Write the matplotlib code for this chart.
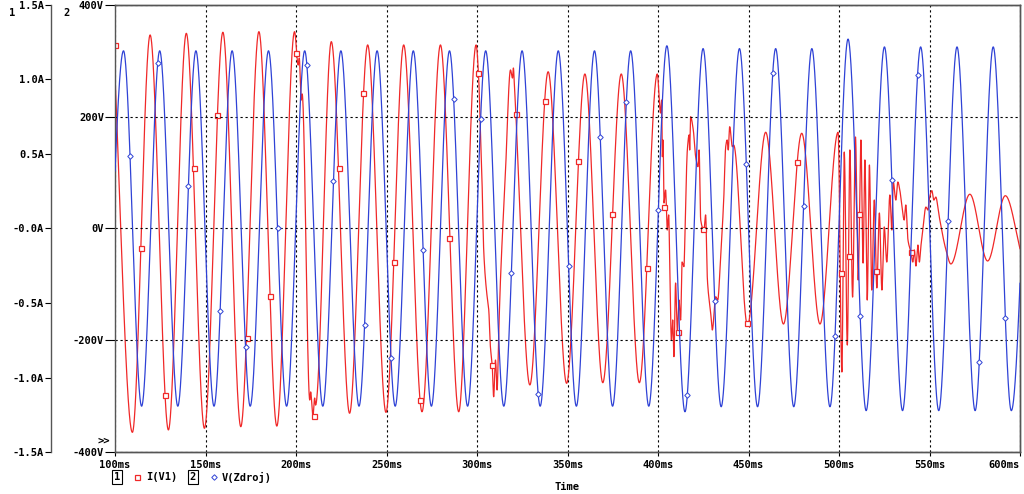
import numpy as np
import matplotlib
matplotlib.use('Agg')
from matplotlib import pyplot as plt
from matplotlib.lines import Line2D

plt.rcParams['font.family'] = ['DejaVu Sans Mono']
plt.rcParams['font.weight'] = 'bold'
plt.rcParams['font.size'] = 7.5

# ---- I(V1): extrema / break points (time ms, current A)
red_t = [99.0, 109.6, 119.4, 129.5, 139.4, 149.4, 159.6, 169.5, 179.5, 189.4, 199.2,
         201.2, 201.8, 202.9, 203.4, 207.6, 208.1, 209.35, 210.3, 210.8,
         219.5, 229.6, 239.6, 249.7, 259.5, 269.6, 279.8, 289.9, 299.5,
         300.9, 301.9, 302.8, 303.7, 305.2, 306.5, 307.4, 308.4, 309.2, 310.2, 311.1,
         312.0, 312.9, 315.7, 318.5, 319.6, 320.1, 320.7,
         329.2, 339.3, 349.5, 359.6, 369.5, 379.7, 389.7, 399.6,
         401.4, 402.0, 402.4, 402.8, 403.3, 404.2, 405.1, 405.9, 406.6, 407.4, 408.1,
         408.8, 409.7, 410.7, 411.6, 412.5, 413.3, 414.3, 415.3, 416.2, 417.2, 417.5,
         418.0, 419.5, 420.8, 422.1, 422.7, 423.6, 425.4, 426.3, 427.3, 429.1, 430.0,
         431.9, 433.0, 434.6, 436.3, 437.4, 438.2, 438.8, 439.6, 441.1, 441.8,
         449.4, 459.5, 469.3, 479.4, 489.5, 499.5,
         501.6, 502.9, 504.6, 506.0, 507.5, 509.1, 510.6, 512.1, 513.3, 514.3,
         515.6, 516.8, 518.1, 519.5, 520.9, 522.3, 523.7, 525.0, 526.4, 528.1,
         529.2, 530.0, 531.4, 532.5, 533.6, 534.7, 536.0, 536.9, 538.1, 539.7,
         540.8, 541.6, 542.5, 543.6, 544.4, 545.2, 546.3, 548.0, 549.1, 549.8,
         551.3, 552.4, 553.5, 555.2, 559.1, 561.8, 572.3, 582.1, 591.9, 600.6]
red_i = [1.30, -1.368, 1.299, -1.352, 1.310, -1.341, 1.317, -1.330, 1.321, -1.326, 1.321,
         1.097, 1.144, 0.862, 0.903, -1.151, -1.097, -1.263, -1.138, -1.185,
         1.254, -1.240, 1.232, -1.234, 1.232, -1.230, 1.232, -1.230, 1.232,
         1.019, 0.641, 0.305, -0.144, -0.413, -0.547, -0.793, -0.916, -1.129, -0.883, -1.084,
         -0.701, -0.366, 0.372, 1.064, 1.010, 1.077, 0.952,
         -1.050, 1.052, -1.039, 1.037, -1.035, 1.037, -1.035, 1.037,
         0.775, 0.862, 0.482, 0.594, 0.171, 0.258, -0.010, 0.091, -0.346, -0.748, -0.614,
         -0.860, -0.366, -0.681, -0.480, -0.614, -0.225, -0.256, 0.191, 0.527, 0.628, 0.527,
         0.750, 0.661, 0.482, 0.415, 0.527, 0.057, -0.010, 0.091, -0.346, -0.567, -0.681,
         -0.458, -0.480, -0.189, 0.191, 0.549, 0.594, 0.527, 0.683, 0.549, 0.560,
         -0.648, 0.646, -0.641, 0.639, -0.641, 0.646,
         -0.963, 0.513, -0.782, 0.527, -0.460, 0.614, -0.346, 0.594, -0.232, 0.460,
         -0.480, 0.426, -0.413, 0.191, -0.399, 0.104, -0.413, 0.010, -0.225, 0.225,
         -0.010, 0.312, 0.191, 0.312, 0.258, 0.158, 0.057, 0.158, -0.077, -0.158,
         -0.225, -0.144, -0.252, -0.111, -0.225, -0.124, -0.010, 0.144, 0.124, 0.191,
         0.254, 0.191, 0.211, 0.091, -0.144, -0.238, 0.230, -0.218, 0.220, -0.164]

# red square markers (time ms, current A)
red_mk_t = [100.0, 114.2, 127.7, 143.7, 156.2, 172.8, 185.7, 199.9, 209.7, 223.5, 237.0,
            253.9, 268.3, 284.6, 300.4, 308.3, 321.8, 337.8, 355.9, 374.7, 393.7, 403.5,
            411.2, 425.1, 449.4, 476.7, 501.0, 505.3, 511.3, 520.4, 539.7]
red_mk_i = [1.232, -0.129, -1.117, 0.404, 0.762, -0.733, -0.453, 1.180, -1.258, 0.404, 0.911,
            -0.223, -1.151, -0.062, 1.042, -0.916, 0.768, 0.858, 0.455, 0.095, -0.263, 0.146,
            -0.697, -0.005, -0.636, 0.444, -0.301, -0.183, 0.095, -0.283, -0.156]

# ---- V(Zdroj): peaks and troughs (time ms, volts)
blue_peak_t = [104.7, 124.7, 144.7, 164.7, 184.8, 204.8, 224.8, 244.8, 264.8, 284.8,
               304.8, 324.9, 344.9, 364.9, 384.9, 404.9, 424.9, 445.0, 465.0, 485.0,
               505.0, 525.1, 545.1, 565.2, 585.2, 605.2]
blue_peak_v = [318, 318, 318, 318, 318, 318, 318, 318, 318, 318,
               318, 318, 318, 318, 318, 327, 322, 322, 322, 322,
               339, 325, 325, 325, 325, 325]
blue_trough_t = [94.7, 114.7, 134.7, 154.7, 174.7, 194.8, 214.8, 234.8, 254.8, 274.8,
                 294.8, 314.8, 334.9, 354.9, 374.9, 394.9, 414.9, 434.9, 455.0, 475.0,
                 495.0, 515.0, 535.1, 555.1, 575.2, 595.2]
blue_trough_v = [-318, -318, -318, -318, -318, -318, -318, -318, -318, -318,
                 -318, -318, -318, -318, -318, -318, -328, -319, -319, -319,
                 -319, -326, -326, -326, -326, -326]
blue_mk_t = [108.3, 123.6, 140.5, 158.1, 172.1, 189.8, 206.0, 220.7, 237.9, 252.5,
             270.2, 287.1, 302.0, 319.0, 333.8, 350.6, 368.1, 382.5, 400.2, 416.2,
             431.3, 448.8, 463.4, 480.4, 497.8, 511.7, 529.2, 543.4, 560.3, 577.5, 591.9]

x_ticks = [100, 150, 200, 250, 300, 350, 400, 450, 500, 550, 600]
v_ticks = [400, 200, 0, -200, -400]
v_labels = ['400V', '200V', '0V', '-200V', '-400V']
a_ticks = [1.5, 1.0, 0.5, 0.0, -0.5, -1.0, -1.5]
a_labels = ['1.5A', '1.0A', '0.5A', '-0.0A', '-0.5A', '-1.0A', '-1.5A']


def pchip(xk, yk, x):
    xk = np.asarray(xk, float)
    yk = np.asarray(yk, float)
    h = np.diff(xk)
    d = np.diff(yk) / h
    m = np.zeros_like(yk)
    m[0] = d[0]
    m[-1] = d[-1]
    for k in range(1, len(xk) - 1):
        if d[k - 1] * d[k] <= 0:
            m[k] = 0.0
        else:
            w1 = 2 * h[k] + h[k - 1]
            w2 = h[k] + 2 * h[k - 1]
            m[k] = (w1 + w2) / (w1 / d[k - 1] + w2 / d[k])
    idx = np.clip(np.searchsorted(xk, x) - 1, 0, len(xk) - 2)
    s = (x - xk[idx]) / h[idx]
    h00 = 2 * s**3 - 3 * s**2 + 1
    h10 = s**3 - 2 * s**2 + s
    h01 = -2 * s**3 + 3 * s**2
    h11 = s**3 - s**2
    return h00 * yk[idx] + h10 * h[idx] * m[idx] + h01 * yk[idx + 1] + h11 * h[idx] * m[idx + 1]


t = np.arange(100.0, 600.0001, 0.02)
red_curve = pchip(red_t, red_i, t)

bt = np.array(blue_peak_t + blue_trough_t)
bv = np.array(blue_peak_v + blue_trough_v, float)
order = np.argsort(bt)
blue_curve = pchip(bt[order], bv[order], t)
blue_mk_v = np.interp(blue_mk_t, t, blue_curve)

RED = '#f02828'
BLUE = '#2f42d6'
FRAME = '#555555'

fig = plt.figure(figsize=(10.24, 4.94), dpi=100)
ax = fig.add_axes([115 / 1024, 42 / 494, 905 / 1024, 447 / 494])
axv = ax.twinx()

# current trace on the outer (A) scale
ax.plot(t, red_curve, color=RED, lw=0.9, zorder=3)
ax.plot(red_mk_t, red_mk_i, ls='none', marker='s', ms=3.6, mfc='white', mec=RED, mew=0.9, zorder=4)
ax.set_ylim(-1.5, 1.5)
ax.set_xlim(100, 600)
ax.set_yticks(a_ticks)
ax.set_yticklabels(a_labels)
ax.spines['left'].set_position(('axes', -64 / 905))
ax.set_xticks(x_ticks)
ax.set_xticklabels([str(v) + 'ms' for v in x_ticks])
ax.get_xticklabels()[-1].set_horizontalalignment('right')
ax.xaxis.grid(True, color='black', ls=(0, (2, 2.5)), lw=0.8)
ax.tick_params(axis='y', direction='out', length=4, pad=1, colors='black', width=0.8)
ax.tick_params(axis='x', direction='out', length=3, pad=3, width=0.8)

# voltage trace on the inner (V) scale
axv.plot(t, blue_curve, color=BLUE, lw=0.9, zorder=3)
axv.plot(blue_mk_t, blue_mk_v, ls='none', marker='D', ms=2.8, mfc='white', mec=BLUE, mew=0.7, zorder=4)
axv.set_ylim(-400, 400)
axv.set_yticks(v_ticks)
axv.set_yticklabels(v_labels)
axv.yaxis.tick_left()
axv.yaxis.grid(True, color='black', ls=(0, (2, 2.5)), lw=0.8)
axv.tick_params(axis='y', direction='out', length=7, pad=1, width=0.8)

for a in (ax, axv):
    for s in a.spines.values():
        s.set_color(FRAME)
        s.set_linewidth(1.0)

fig.text(12 / 1024, 1 - 13 / 494, '1', ha='center', va='center')
fig.text(66 / 1024, 1 - 13 / 494, '2', ha='center', va='center')
fig.text(104 / 1024, 1 - 441 / 494, '>>', ha='center', va='center')
fig.text(567 / 1024, 1 - 487 / 494, 'Time', ha='center', va='center')

# legend row
ly = 1 - 477 / 494
box = dict(boxstyle='square,pad=0.15', fc='white', ec='black', lw=0.8)
fig.text(117 / 1024, ly, '1', ha='center', va='center', bbox=box)
fig.add_artist(Line2D([137 / 1024], [ly], transform=fig.transFigure, marker='s', ms=3.6,
                      mfc='white', mec=RED, mew=0.9, ls='none'))
fig.text(146 / 1024, ly, 'I(V1)', ha='left', va='center')
fig.text(193 / 1024, ly, '2', ha='center', va='center', bbox=box)
fig.add_artist(Line2D([214 / 1024], [ly], transform=fig.transFigure, marker='D', ms=2.8,
                      mfc='white', mec=BLUE, mew=0.7, ls='none'))
fig.text(222 / 1024, ly, 'V(Zdroj)', ha='left', va='center')

fig.savefig('out.png', dpi=100)
